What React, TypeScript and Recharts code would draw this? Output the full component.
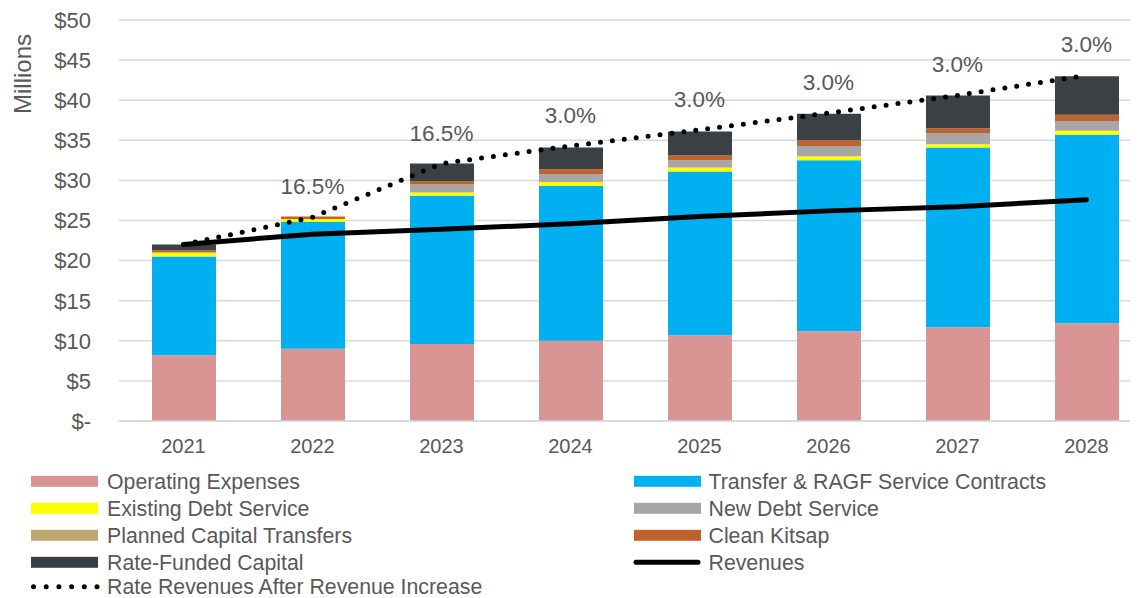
import React from 'react';
import { ComposedChart, Bar, Line, XAxis, YAxis, CartesianGrid, Legend, LabelList } from 'recharts';

const years = ['2021', '2022', '2023', '2024', '2025', '2026', '2027', '2028'];
const operating = [8.2, 9.0, 9.6, 10.0, 10.7, 11.2, 11.7, 12.2];
const transfer = [12.3, 15.8, 18.5, 19.3, 20.4, 21.3, 22.4, 23.5];
const existingDebt = [0.5, 0.4, 0.4, 0.5, 0.5, 0.5, 0.4, 0.5];
const newDebt = [0, 0, 1.0, 1.0, 0.9, 1.3, 1.4, 1.2];
const plannedCapital = [0, 0, 0, 0, 0, 0, 0, 0];
const cleanKitsap = [0.3, 0.3, 0.4, 0.6, 0.6, 0.7, 0.6, 0.8];
const rateFunded = [0.7, 0, 2.2, 2.7, 3.0, 3.3, 4.1, 4.8];
const revenues = [22.0, 23.3, 23.9, 24.6, 25.5, 26.2, 26.7, 27.6];
const rateRevenues = [22.0, 25.4, 32.1, 34.3, 36.3, 38.4, 40.6, 43.1];
const increaseLabels = ['', '16.5%', '16.5%', '3.0%', '3.0%', '3.0%', '3.0%', '3.0%'];
const yTicks = [0, 5, 10, 15, 20, 25, 30, 35, 40, 45, 50];

const data = years.map((y, i) => ({
  year: y,
  operating: operating[i],
  transfer: transfer[i],
  existingDebt: existingDebt[i],
  newDebt: newDebt[i],
  plannedCapital: plannedCapital[i],
  cleanKitsap: cleanKitsap[i],
  rateFunded: rateFunded[i],
  revenues: revenues[i],
  rateRevenues: rateRevenues[i],
  incLabel: increaseLabels[i],
}));

const FONT = '"Liberation Sans", Arial, sans-serif';
const TXT = '#595959';

const C = {
  operating: '#D99594',
  transfer: '#00B0F0',
  existingDebt: '#FFFF00',
  newDebt: '#A6A6A6',
  plannedCapital: '#BFA86E',
  cleanKitsap: '#C0622D',
  rateFunded: '#3A4043',
};

const legendItems = [
  { name: 'Operating Expenses', color: C.operating, type: 'rect', col: 0, row: 0 },
  { name: 'Transfer & RAGF Service Contracts', color: C.transfer, type: 'rect', col: 1, row: 0 },
  { name: 'Existing Debt Service', color: C.existingDebt, type: 'rect', col: 0, row: 1 },
  { name: 'New Debt Service', color: C.newDebt, type: 'rect', col: 1, row: 1 },
  { name: 'Planned Capital Transfers', color: C.plannedCapital, type: 'rect', col: 0, row: 2 },
  { name: 'Clean Kitsap', color: C.cleanKitsap, type: 'rect', col: 1, row: 2 },
  { name: 'Rate-Funded Capital', color: C.rateFunded, type: 'rect', col: 0, row: 3 },
  { name: 'Revenues', color: '#000000', type: 'line', col: 1, row: 3 },
  { name: 'Rate Revenues After Revenue Increase', color: '#000000', type: 'dots', col: 0, row: 4 },
];

const LegendContent = () => (
  <svg width={1150} height={147} style={{ display: 'block' }}>
    {legendItems.map((it) => {
      const sx = it.col === 0 ? 23 : 626;
      const tx = it.col === 0 ? 99 : 700.5;
      const cy = 30.3 + it.row * 27 - (it.row === 4 ? 2.5 : 0);
      let sw: React.ReactNode;
      if (it.type === 'rect') {
        sw = <rect x={sx} y={cy - 5.5} width={67} height={11} fill={it.color} />;
      } else if (it.type === 'line') {
        sw = <line x1={sx + 2} y1={cy} x2={sx + 64} y2={cy} stroke="#000" strokeWidth={5} strokeLinecap="round" />;
      } else {
        sw = <line x1={sx + 2.5} y1={cy} x2={sx + 66} y2={cy} stroke="#000" strokeWidth={5} strokeLinecap="round" strokeDasharray="0 12.7" />;
      }
      return (
        <g key={it.name}>
          {sw}
          <text x={tx} y={cy + 7.3} fontSize={21.3} fill={TXT} fontFamily={FONT}>{it.name}</text>
        </g>
      );
    })}
  </svg>
);

const MillionsLabel = (props: any) => {
  const vb = props.viewBox || { x: 0, y: 0 };
  return (
    <text
      x={14}
      y={vb.y + 54}
      transform={`rotate(-90, 14, ${vb.y + 54})`}
      textAnchor="middle"
      dominantBaseline="central"
      fontSize={24}
      fill={TXT}
      fontFamily={FONT}
    >
      Millions
    </text>
  );
};

const PctLabel = (props: any) => {
  const { x, y, value } = props;
  if (!value) return null;
  return (
    <text x={x} y={y - 23} textAnchor="middle" fontSize={22.5} fill={TXT} fontFamily={FONT}>
      {value}
    </text>
  );
};

export default function App() {
  return (
    <div style={{ width: 1130, height: 590, overflow: 'hidden' }}>
      <ComposedChart
        width={1150}
        height={590}
        data={data}
        margin={{ top: 12, right: 7, left: 0, bottom: 0 }}
        barSize={64}
      >
        <CartesianGrid vertical={false} stroke="#D9D9D9" strokeWidth={1.5} />
        <XAxis
          dataKey="year"
          tickLine={false}
          axisLine={{ stroke: '#D9D9D9', strokeWidth: 1.5 }}
          tick={{ fontSize: 20, fill: TXT, fontFamily: FONT }}
          tickMargin={12}
          height={30}
          interval={0}
        />
        <YAxis
          width={111}
          domain={[0, 50]}
          ticks={yTicks}
          interval={0}
          tickLine={false}
          axisLine={false}
          tickMargin={22}
          tick={{ fontSize: 22, fill: TXT, fontFamily: FONT }}
          tickFormatter={(v: number) => (v === 0 ? '$-' : `$${v}`)}
          label={<MillionsLabel />}
        />
        <Legend
          verticalAlign="bottom"
          align="left"
          wrapperStyle={{ left: 0, width: 1150, height: 147 }}
          content={<LegendContent />}
        />
        <Bar dataKey="operating" stackId="a" fill={C.operating} isAnimationActive={false} />
        <Bar dataKey="transfer" stackId="a" fill={C.transfer} isAnimationActive={false} />
        <Bar dataKey="existingDebt" stackId="a" fill={C.existingDebt} isAnimationActive={false} />
        <Bar dataKey="newDebt" stackId="a" fill={C.newDebt} isAnimationActive={false} />
        <Bar dataKey="plannedCapital" stackId="a" fill={C.plannedCapital} isAnimationActive={false} />
        <Bar dataKey="cleanKitsap" stackId="a" fill={C.cleanKitsap} isAnimationActive={false} />
        <Bar dataKey="rateFunded" stackId="a" fill={C.rateFunded} isAnimationActive={false} />
        <Line
          dataKey="revenues"
          stroke="#000"
          strokeWidth={5}
          strokeLinecap="round"
          dot={false}
          activeDot={false}
          isAnimationActive={false}
        />
        <Line
          dataKey="rateRevenues"
          stroke="#000"
          strokeWidth={5}
          strokeLinecap="round"
          strokeDasharray="0 12"
          dot={false}
          activeDot={false}
          isAnimationActive={false}
        >
          <LabelList dataKey="incLabel" content={<PctLabel />} />
        </Line>
      </ComposedChart>
    </div>
  );
}
